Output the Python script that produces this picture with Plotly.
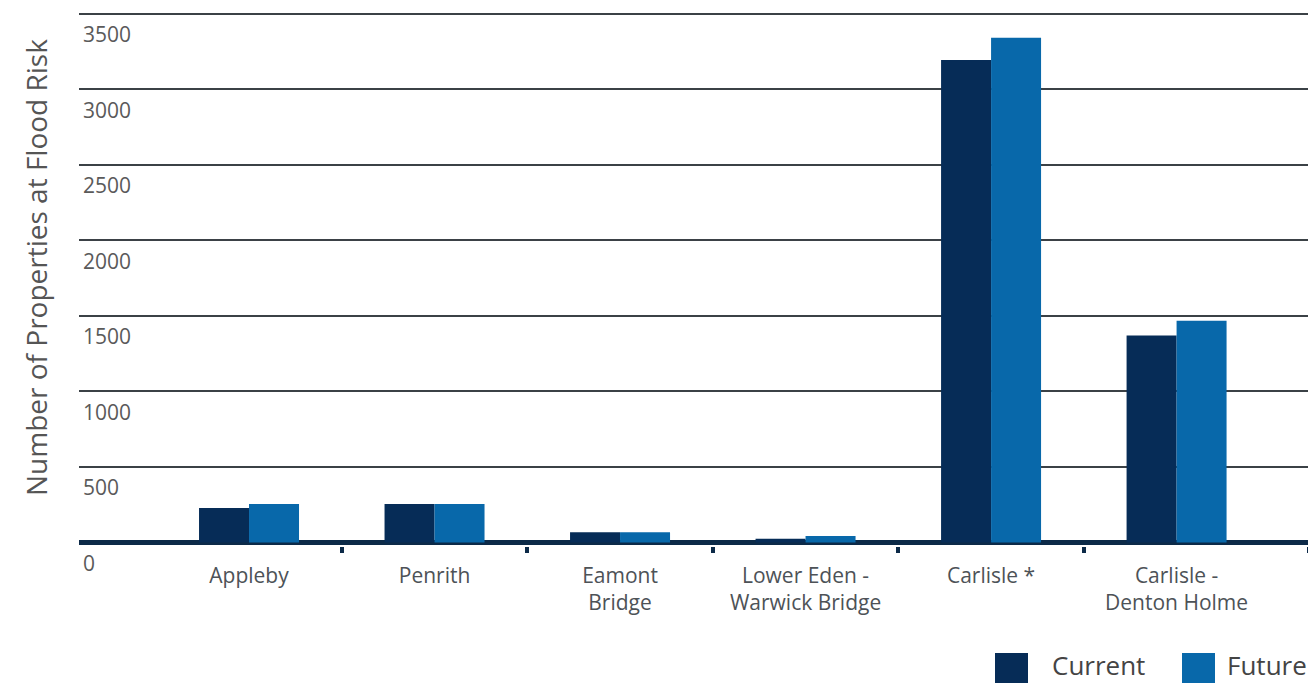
import plotly.graph_objects as go

categories = ["Appleby", "Penrith", "Eamont<br>Bridge", "Lower Eden -<br>Warwick Bridge",
              "Carlisle *", "Carlisle -<br>Denton Holme"]
current = [228, 255, 68, 25, 3195, 1370]
future = [255, 255, 68, 43, 3343, 1469]
y_ticks = [0, 500, 1000, 1500, 2000, 2500, 3000, 3500]
series_names = ["Current", "Future"]

C_CUR = "#062c57"
C_FUT = "#0868aa"
NAVY = "#0c2a48"
FONT = "Open Sans"

# page offset (default body margin of the html page)
OFF = 8
PAGE_W, PAGE_H = 1316, 684
W, H = PAGE_W - OFF, PAGE_H - OFF
# plot area in page pixels
PL, PR, PT, PB = 79, 1312, 12, 546
ML, MR, MT, MB = PL - OFF, PAGE_W - PR, PT - OFF, PAGE_H - PB
pos = list(range(len(categories)))

fig = go.Figure()
fig.add_trace(go.Bar(x=pos, y=current, name=series_names[0], marker=dict(color=C_CUR, line_width=0),
                     showlegend=False))
fig.add_trace(go.Bar(x=pos, y=future, name=series_names[1], marker=dict(color=C_FUT, line_width=0),
                     showlegend=False))

pw = PR - PL
ph = PB - PT


def px_x(px):
    return (px - PL) / pw


def px_y(py):
    return (PB - py) / ph


shapes = []
annotations = []
for name, col, x0, tx in [(series_names[0], C_CUR, 995, 1050), (series_names[1], C_FUT, 1182, 1225)]:
    shapes.append(dict(type="rect", xref="paper", yref="paper",
                       x0=px_x(x0), x1=px_x(x0 + 33), y0=px_y(683), y1=px_y(653),
                       fillcolor=col, line_width=0, layer="above"))
    annotations.append(dict(text=name, xref="paper", yref="paper", x=px_x(tx), y=px_y(665),
                            xanchor="left", yanchor="middle", showarrow=False,
                            font=dict(family=FONT, size=26, color="#444444")))

annotations.append(dict(text="Number of Properties at Flood Risk", xref="paper", yref="paper",
                        x=px_x(36), y=px_y(268), xanchor="center", yanchor="middle",
                        textangle=-90, showarrow=False,
                        font=dict(family=FONT, size=28, color="#555555")))

fig.update_layout(
    width=W, height=H,
    margin=dict(l=ML, r=MR, t=MT, b=MB, pad=0, autoexpand=False),
    paper_bgcolor="white", plot_bgcolor="white",
    barmode="group", bargap=0.461, bargroupgap=0,
    showlegend=False,
    shapes=shapes, annotations=annotations,
    xaxis=dict(
        range=[-0.9165, 5.73],
        tickmode="array", tickvals=pos, ticktext=categories,
        ticks="", showgrid=False, zeroline=False, showline=False,
        tickfont=dict(family=FONT, size=21, color="#4d5257"),
        ticklabelstandoff=15, automargin=False,
        minor=dict(tickmode="array", tickvals=[0.5, 1.5, 2.5, 3.5, 4.5, 5.715],
                   ticks="outside", ticklen=6, tickwidth=4, tickcolor=NAVY, showgrid=False),
        fixedrange=True,
    ),
    yaxis=dict(
        range=[-23.2, 3513],
        tickmode="array", tickvals=y_ticks,
        ticks="", showline=False,
        showgrid=True, gridcolor="#3b4146", gridwidth=1.6,
        zeroline=True, zerolinecolor=NAVY, zerolinewidth=5,
        ticklabelposition="inside", ticklabeloverflow="allow",
        ticklabelshift=21, ticklabelstandoff=1, automargin=False,
        tickfont=dict(family=FONT, size=21, color="#5a5a5a"),
        fixedrange=True,
    ),
)

fig.write_html("out.html")
